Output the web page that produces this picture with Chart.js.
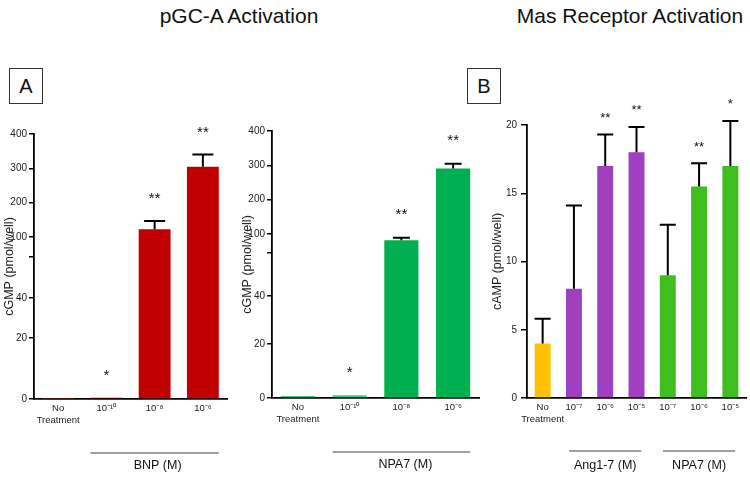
<!DOCTYPE html>
<html>
<head>
<meta charset="utf-8">
<script src="https://cdn.jsdelivr.net/npm/chart.js@4/dist/chart.umd.min.js"></script>
<style>
  html, body { margin:0; padding:0; background:#fff; }
  body { width:750px; height:477px; position:relative; overflow:hidden; font-family:"Liberation Sans", Arial, sans-serif; color:#111; }
  .wrap { position:absolute; }
  .title { position:absolute; top:3px; font-family:"Liberation Sans Narrow","Liberation Sans",Arial,sans-serif; font-size:21px; line-height:26px; white-space:nowrap; transform:translateX(-50%); color:#111; }
  .tag { position:absolute; top:68px; width:32px; height:34px; border:1px solid #333; font-size:20px; line-height:34px; text-align:center; color:#111; }
</style>
</head>
<body>
<div class="title" style="left:239px">pGC-A Activation</div>
<div class="title" style="left:630px">Mas Receptor Activation</div>
<div class="tag" style="left:9px">A</div>
<div class="tag" style="left:467px">B</div>
<div class="wrap" style="left:0px;top:100px;"><canvas id="cA1" width="240" height="377"></canvas></div>
<div class="wrap" style="left:238px;top:100px;"><canvas id="cA2" width="245" height="377"></canvas></div>
<div class="wrap" style="left:488px;top:90px;"><canvas id="cB" width="262" height="387"></canvas></div>
<script>
// ---------------- data ----------------
const gcCategories = [['No', 'Treatment'], '10⁻¹⁰', '10⁻⁸', '10⁻⁶'];
const bnpValues = [0.3, 0.45, 123, 305];
const bnpErrors = [0, 0, 24, 35];
const bnpStars = ['', '*', '**', '**'];
const npa7GcValues = [0.75, 1.0, 87, 291];
const npa7GcErrors = [0, 0, 5, 14];
const npa7GcStars = ['', '*', '**', '**'];
const cgmpTicks = [0, 20, 40, 60, 100, 200, 300, 400];
const cgmpTickLabels = ['0', '20', '40', '', '100', '200', '300', '400'];

const masCategories = [['No', 'Treatment'], '10⁻⁷', '10⁻⁶', '10⁻⁵', '10⁻⁷', '10⁻⁶', '10⁻⁵'];
const masValues = [4, 8, 17, 18, 9, 15.5, 17];
const masErrors = [1.8, 6.1, 2.3, 1.85, 3.7, 1.7, 3.3];
const masStars = ['', '', '**', '**', '', '**', '*'];
const campTicks = [0, 5, 10, 15, 20];
const campTickLabels = ['0', '5', '10', '15', '20'];

// ---------------- broken-axis scale ----------------
class BrokenLinearScale extends Chart.LinearScale {
  static id = 'brokenLinear';
  _toDecimal(v) {
    const k = this.options.knots;
    if (v <= k[0][0]) return k[0][1];
    for (let i = 1; i < k.length; i++) {
      if (v <= k[i][0]) {
        const [v0, f0] = k[i - 1], [v1, f1] = k[i];
        return f0 + (v - v0) / (v1 - v0) * (f1 - f0);
      }
    }
    return k[k.length - 1][1];
  }
  getPixelForValue(value) {
    if (value === null || value === undefined || isNaN(value)) return NaN;
    return this.getPixelForDecimal(this._toDecimal(value));
  }
  getValueForPixel(pixel) {
    const d = this.getDecimalForPixel(pixel);
    const k = this.options.knots;
    for (let i = 1; i < k.length; i++) {
      if (d <= k[i][1]) {
        const [v0, f0] = k[i - 1], [v1, f1] = k[i];
        return v0 + (d - f0) / (f1 - f0) * (v1 - v0);
      }
    }
    return k[k.length - 1][0];
  }
}
Chart.register(BrokenLinearScale);

Chart.defaults.font.family = '"Liberation Sans", Arial, Helvetica, sans-serif';
Chart.defaults.color = '#1a1a1a';

// ---------------- annotation plugin (error bars, stars, group brackets) ----------------
function annot(o) {
  return {
    id: 'annot',
    afterDatasetsDraw(chart) {
      const ctx = chart.ctx, meta = chart.getDatasetMeta(0), y = chart.scales.y;
      ctx.save();
      o.values.forEach((v, i) => {
        const bar = meta.data[i];
        const e = o.errors[i] || 0;
        const yTop = y.getPixelForValue(v + e);
        if (e > 0) {
          ctx.strokeStyle = '#000';
          ctx.lineWidth = o.errWidth;
          ctx.beginPath();
          ctx.moveTo(bar.x, y.getPixelForValue(v));
          ctx.lineTo(bar.x, yTop);
          ctx.moveTo(bar.x - o.capW / 2, yTop);
          ctx.lineTo(bar.x + o.capW / 2, yTop);
          ctx.stroke();
        }
        if (o.stars[i]) {
          ctx.fillStyle = '#111';
          ctx.font = o.starSize + 'px "Liberation Sans", Arial, sans-serif';
          ctx.textAlign = 'center';
          ctx.textBaseline = 'alphabetic';
          ctx.fillText(o.stars[i], bar.x, yTop - o.starGap + 0.57 * o.starSize);
        }
      });
      ctx.restore();
    },
    afterDraw(chart) {
      const ctx = chart.ctx, meta = chart.getDatasetMeta(0);
      ctx.save();
      o.groups.forEach(g => {
        const b1 = meta.data[g.from], b2 = meta.data[g.to];
        const x1 = b1.x - b1.width * o.bracketInset;
        const x2 = b2.x + b2.width * o.bracketInset;
        ctx.strokeStyle = '#444';
        ctx.lineWidth = 1.2;
        ctx.beginPath();
        ctx.moveTo(x1, o.lineY);
        ctx.lineTo(x2, o.lineY);
        ctx.stroke();
        ctx.fillStyle = '#111';
        ctx.font = '12.5px "Liberation Sans", Arial, sans-serif';
        ctx.textAlign = 'center';
        ctx.textBaseline = 'middle';
        ctx.fillText(g.label, (x1 + x2) / 2 + (o.textShift || 0), o.textY);
      });
      ctx.restore();
    }
  };
}

function panel(canvasId, o) {
  return new Chart(document.getElementById(canvasId), {
    type: 'bar',
    data: {
      labels: o.labels,
      datasets: [{ data: o.values, backgroundColor: o.colors, borderWidth: 0,
                   barPercentage: 1, categoryPercentage: o.catPct }]
    },
    options: {
      responsive: false, animation: false, devicePixelRatio: 1,
      layout: { padding: { top: o.padTop, right: o.padRight, left: 0, bottom: 0 } },
      plugins: { legend: { display: false }, tooltip: { enabled: false } },
      scales: {
        x: {
          grid: { display: false, drawTicks: false },
          border: { display: true, color: '#000', width: 1.8 },
          ticks: { font: { size: 9.5 }, color: '#222', padding: 4, maxRotation: 0, minRotation: 0, autoSkip: false },
          afterFit: s => { s.height = o.xHeight; }
        },
        y: {
          type: o.yType, min: o.yMin, max: o.yMax, knots: o.knots,
          afterBuildTicks: s => { s.ticks = o.yTicks.map(v => ({ value: v })); },
          ticks: { callback: (v, i) => o.yTickLabels[i], font: { size: 10 }, color: '#222', padding: o.yTickPad },
          grid: { drawOnChartArea: false, drawTicks: true, tickLength: o.tickLen, color: '#000', lineWidth: 1.5 },
          border: { display: true, color: '#000', width: 1.8 },
          title: { display: true, text: o.yTitle, font: { size: 12.5 }, color: '#222', padding: { top: 2, bottom: 0 } },
          afterFit: s => { s.width = o.yWidth; }
        }
      }
    },
    plugins: [annot(o)]
  });
}

panel('cA1', {
  labels: gcCategories, values: bnpValues, errors: bnpErrors, stars: bnpStars,
  colors: ['#e0641e', '#c00000', '#c00000', '#c00000'],
  catPct: 0.66, padTop: 34, padRight: 13, xHeight: 78, yWidth: 34,
  yType: 'brokenLinear', yMin: 0, yMax: 400,
  knots: [[0, 0], [20, 0.230], [40, 0.381], [60, 0.536], [100, 0.611], [400, 1]],
  yTicks: cgmpTicks, yTickLabels: cgmpTickLabels, yTickPad: 2, tickLen: 5,
  yTitle: 'cGMP (pmol/well)',
  errWidth: 2, capW: 21, starSize: 15, starGap: 26,
  groups: [{ label: 'BNP (M)', from: 1, to: 3 }], bracketInset: 0.5, lineY: 353, textY: 366, textShift: 3
});

panel('cA2', {
  labels: gcCategories, values: npa7GcValues, errors: npa7GcErrors, stars: npa7GcStars,
  colors: ['#45c87a', '#45c87a', '#00b050', '#00b050'],
  catPct: 0.66, padTop: 31, padRight: 4, xHeight: 79, yWidth: 34,
  yType: 'brokenLinear', yMin: 0, yMax: 400,
  knots: [[0, 0], [20, 0.202], [40, 0.382], [60, 0.543], [100, 0.614], [400, 1]],
  yTicks: cgmpTicks, yTickLabels: cgmpTickLabels, yTickPad: 2, tickLen: 5,
  yTitle: 'cGMP (pmol/well)',
  errWidth: 2, capW: 17, starSize: 15, starGap: 27,
  groups: [{ label: 'NPA7 (M)', from: 1, to: 3 }], bracketInset: 0.5, lineY: 352, textY: 365, textShift: 4
});

panel('cB', {
  labels: masCategories, values: masValues, errors: masErrors, stars: masStars,
  colors: ['#ffc000', '#a040c0', '#a040c0', '#a040c0', '#40be20', '#40be20', '#40be20'],
  catPct: 0.51, padTop: 35, padRight: 4, xHeight: 79, yWidth: 39,
  yType: 'linear', yMin: 0, yMax: 20,
  yTicks: campTicks, yTickLabels: campTickLabels, yTickPad: 4, tickLen: 6,
  yTitle: 'cAMP (pmol/well)',
  errWidth: 2, capW: 16, starSize: 13, starGap: 20,
  groups: [{ label: 'Ang1-7 (M)', from: 1, to: 3 }, { label: 'NPA7 (M)', from: 4, to: 6 }],
  bracketInset: 0.3, lineY: 361, textY: 376, textShift: 0
});
</script>
</body>
</html>
